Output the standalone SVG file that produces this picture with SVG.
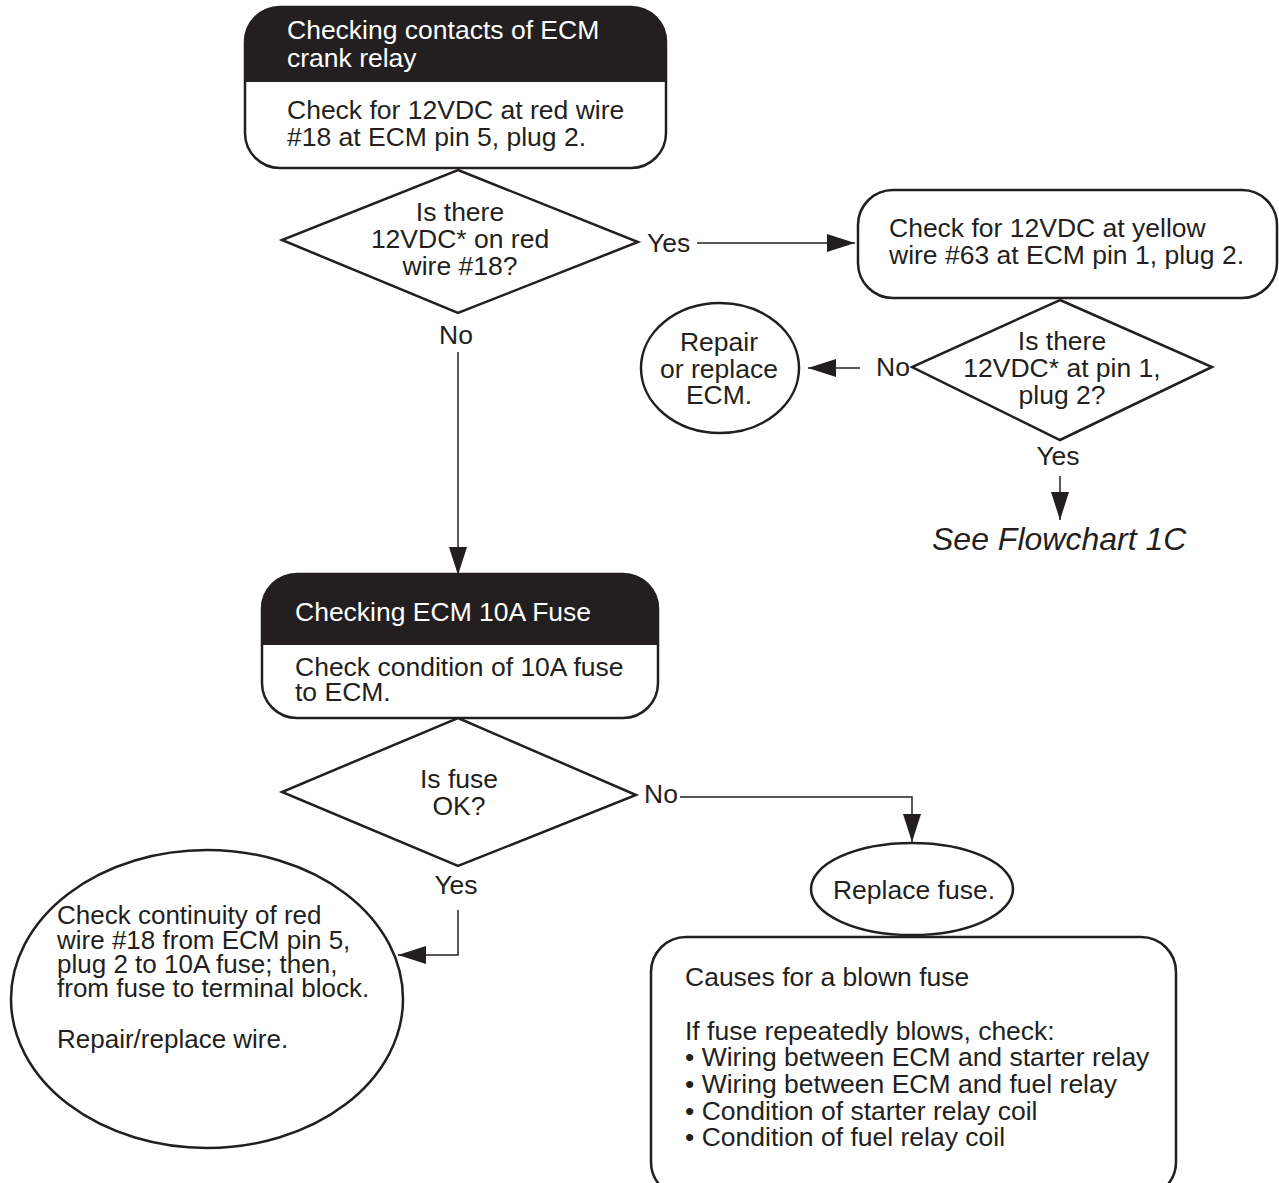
<svg xmlns="http://www.w3.org/2000/svg" width="1279" height="1183" viewBox="0 0 1279 1183">
<style>
text{font-family:"Liberation Sans",Arial,sans-serif;font-size:26.5px;fill:#231f20}
.w{fill:#fff}
.c{text-anchor:middle}
.s{font-size:26px}
.shape{fill:#fff;stroke:#231f20;stroke-width:2.5}
.hdr{fill:#231f20}
.ln{fill:none;stroke:#231f20;stroke-width:1.5}
.it{font-style:italic;font-size:32px}
</style>
<defs>
<marker id="ah" viewBox="0 0 28 18" refX="28" refY="9" markerWidth="28" markerHeight="18" markerUnits="userSpaceOnUse" orient="auto">
<path d="M0,0 L28,9 L0,18 Z" fill="#231f20"/>
</marker>
</defs>
<g id="connectors">
<line class="ln" x1="697" y1="243" x2="855" y2="243" marker-end="url(#ah)"/>
<line class="ln" x1="860" y1="368" x2="808" y2="368" marker-end="url(#ah)"/>
<line class="ln" x1="1060" y1="476" x2="1060" y2="520" marker-end="url(#ah)"/>
<line class="ln" x1="458" y1="352" x2="458" y2="575" marker-end="url(#ah)"/>
<polyline class="ln" points="680,797 912,797 912,842" marker-end="url(#ah)"/>
<polyline class="ln" points="458,910 458,955 398,955" marker-end="url(#ah)"/>
</g>
<g id="box1">
<rect class="shape" x="245" y="7" width="421" height="161" rx="35"/>
<path class="hdr" d="M245,82 V42 A35,35 0 0 1 280,7 H631 A35,35 0 0 1 666,42 V82 Z"/>
<text class="w" x="287" y="39">Checking contacts of ECM</text>
<text class="w" x="287" y="67">crank relay</text>
<text x="287" y="119">Check for 12VDC at red wire</text>
<text x="287" y="146">#18 at ECM pin 5, plug 2.</text>
</g>
<g id="dec1">
<polygon class="shape" points="458,170 638,242 458,313 282,240"/>
<text class="c" x="460" y="221">Is there</text>
<text class="c" x="460" y="248">12VDC* on red</text>
<text class="c" x="460" y="275">wire #18?</text>
<text x="647" y="252">Yes</text>
<text class="c" x="456" y="344">No</text>
</g>
<g id="box2">
<rect class="shape" x="858" y="190" width="419" height="108" rx="35"/>
<text x="889" y="237">Check for 12VDC at yellow</text>
<text x="889" y="264">wire #63 at ECM pin 1, plug 2.</text>
</g>
<g id="dec2">
<polygon class="shape" points="1060,300 1212,367 1060,440 912,367"/>
<text class="c" x="1062" y="350">Is there</text>
<text class="c" x="1062" y="377">12VDC* at pin 1,</text>
<text class="c" x="1062" y="404">plug 2?</text>
<text x="876" y="376">No</text>
<text class="c" x="1058" y="465">Yes</text>
</g>
<g id="repairecm">
<ellipse class="shape" cx="720" cy="368" rx="79" ry="65"/>
<text class="c" x="719" y="351">Repair</text>
<text class="c" x="719" y="378">or replace</text>
<text class="c" x="719" y="404">ECM.</text>
</g>
<g id="flow1c">
<text class="it" x="932" y="550">See Flowchart 1C</text>
</g>
<g id="box3">
<rect class="shape" x="262" y="574" width="396" height="144" rx="35"/>
<path class="hdr" d="M262,645 V609 A35,35 0 0 1 297,574 H623 A35,35 0 0 1 658,609 V645 Z"/>
<text class="w" x="295" y="621">Checking ECM 10A Fuse</text>
<text x="295" y="676">Check condition of 10A fuse</text>
<text x="295" y="701">to ECM.</text>
</g>
<g id="dec3">
<polygon class="shape" points="458,718 636,795 458,866 282,792"/>
<text class="c" x="459" y="788">Is fuse</text>
<text class="c" x="459" y="815">OK?</text>
<text x="644" y="803">No</text>
<text class="c" x="456" y="894">Yes</text>
</g>
<g id="replacefuse">
<ellipse class="shape" cx="912" cy="889" rx="101" ry="46"/>
<text class="c" x="914" y="899">Replace fuse.</text>
</g>
<g id="continuity">
<ellipse class="shape" cx="207" cy="999" rx="196" ry="149"/>
<text class="s" x="57" y="924">Check continuity of red</text>
<text class="s" x="57" y="949">wire #18 from ECM pin 5,</text>
<text class="s" x="57" y="973">plug 2 to 10A fuse; then,</text>
<text class="s" x="57" y="997">from fuse to terminal block.</text>
<text class="s" x="57" y="1048">Repair/replace wire.</text>
</g>
<g id="causes">
<rect class="shape" x="651" y="937" width="525" height="260" rx="35"/>
<text x="685" y="986">Causes for a blown fuse</text>
<text x="685" y="1040">If fuse repeatedly blows, check:</text>
<text x="685" y="1066">• Wiring between ECM and starter relay</text>
<text x="685" y="1093">• Wiring between ECM and fuel relay</text>
<text x="685" y="1120">• Condition of starter relay coil</text>
<text x="685" y="1146">• Condition of fuel relay coil</text>
</g>
</svg>
